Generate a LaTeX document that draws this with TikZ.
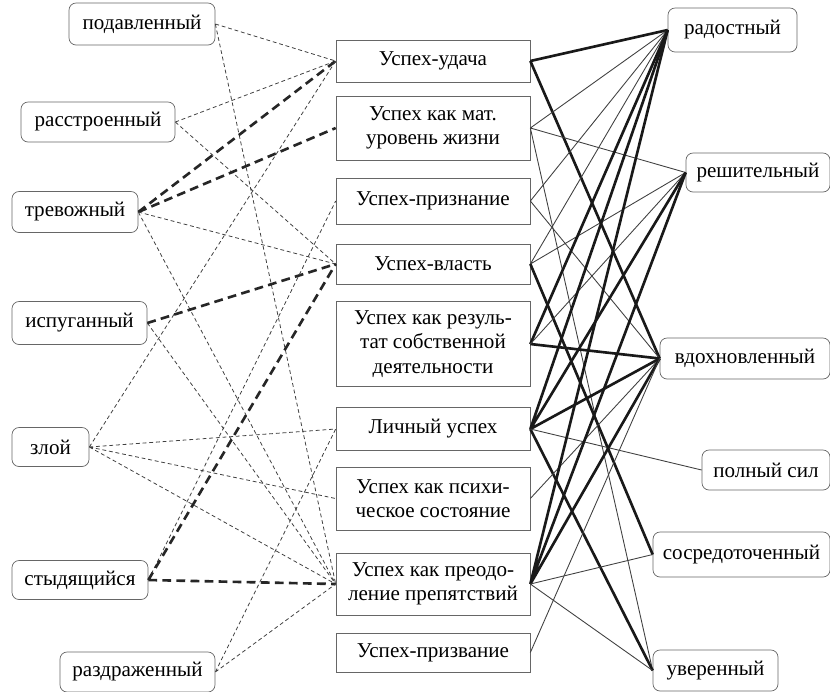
\documentclass[tikz,border=0pt]{standalone}
\usepackage{fontspec}
\setmainfont{Liberation Serif}
\usepackage{tikz}
\tikzstyle{emo} = [draw=black!60, rounded corners=4pt, rectangle, align=center, font=\fontsize{12}{14}\selectfont]
\tikzstyle{kind} = [draw=black!60, rectangle, minimum width=3.88cm, align=center, font=\fontsize{12}{14}\selectfont]
\tikzstyle{weak} = [draw=black!75, line width=0.45pt, dash pattern=on 2.2pt off 1.6pt]
\tikzstyle{strong} = [draw=black!85, line width=1.5pt, dash pattern=on 5pt off 3pt]
\tikzstyle{thin} = [draw=black!75, line width=0.5pt]
\tikzstyle{bold} = [draw=black!90, line width=1.5pt]

\begin{document}
\begin{tikzpicture}[x=0.02cm, y=-0.02cm]
\clip (0,0) rectangle (830,691);

% left column
\node [emo, minimum width=2.92cm, minimum height=0.84cm] (pod) at (142,24) {подавленный};
\node [emo, minimum width=3.08cm, minimum height=0.80cm] (ras) at (98,122) {расстроенный};
\node [emo, minimum width=2.52cm, minimum height=0.82cm] (tre) at (75,212) {тревожный};
\node [emo, minimum width=2.70cm, minimum height=0.86cm] (isp) at (79.5,323) {испуганный};
\node [emo, minimum width=1.54cm, minimum height=0.78cm] (zloy) at (50.5,447) {злой};
\node [emo, minimum width=2.72cm, minimum height=0.78cm] (styd) at (80,580) {стыдящийся};
\node [emo, minimum width=3.10cm, minimum height=0.80cm] (razd) at (137.5,672) {раздраженный};

% middle column
\node [kind, minimum height=0.84cm] (udacha) at (433,61) {Успех-удача};
\node [kind, minimum height=1.28cm] (mat) at (433,128) {Успех как мат.\\уровень жизни};
\node [kind, minimum height=0.92cm] (priz) at (433,201) {Успех-признание};
\node [kind, minimum height=0.80cm] (vlast) at (433,264) {Успех-власть};
\node [kind, minimum height=1.70cm] (rez) at (433,344) {Успех как резуль-\\тат собственной\\деятельности};
\node [kind, minimum height=0.86cm] (lich) at (433,429) {Личный успех};
\node [kind, minimum height=1.26cm] (psih) at (433,498.5) {Успех как психи-\\ческое состояние};
\node [kind, minimum height=1.24cm] (preod) at (433,584) {Успех как преодо-\\ление препятствий};
\node [kind, minimum height=0.78cm] (prizv) at (433,652.5) {Успех-призвание};

% right column
\node [emo, minimum width=2.58cm, minimum height=0.88cm] (rad) at (732.5,30) {радостный};
\node [emo, minimum width=2.88cm, minimum height=0.78cm] (resh) at (758,172.5) {решительный};
\node [emo, minimum width=3.40cm, minimum height=0.82cm] (vdoh) at (745,358.5) {вдохновленный};
\node [emo, minimum width=2.56cm, minimum height=0.80cm] (poln) at (766,470) {полный сил};
\node [emo, minimum width=3.54cm, minimum height=0.90cm] (sosr) at (741.5,554.5) {сосредоточенный};
\node [emo, minimum width=2.50cm, minimum height=0.82cm] (uver) at (715.5,670.5) {уверенный};

% left links
\draw [weak] (pod.east) -- (udacha.west) (pod.east) -- (preod.west);
\draw [weak] (ras.east) -- (udacha.west) (ras.east) -- (vlast.west);
\draw [strong] (tre.east) -- (udacha.west) (tre.east) -- (mat.west);
\draw [weak] (tre.east) -- (vlast.west) (tre.east) -- (preod.west);
\draw [strong] (isp.east) -- (vlast.west);
\draw [weak] (isp.east) -- (preod.west);
\draw [weak] (zloy.east) -- (udacha.west) (zloy.east) -- (lich.west) (zloy.east) -- (psih.west) (zloy.east) -- (preod.west);
\draw [weak] (styd.east) -- (priz.west);
\draw [strong] (styd.east) -- (vlast.west) (styd.east) -- (preod.west);
\draw [weak] (razd.east) -- (lich.west) (razd.east) -- (preod.west);

% right links
\draw [bold] (udacha.east) -- (rad.west) (udacha.east) -- (vdoh.west);
\draw [thin] (mat.east) -- (rad.west) (mat.east) -- (resh.west) (mat.east) -- (uver.west);
\draw [thin] (priz.east) -- (rad.west) (priz.east) -- (vdoh.west);
\draw [thin] (vlast.east) -- (rad.west) (vlast.east) -- (resh.west);
\draw [bold] (vlast.east) -- (sosr.west);
\draw [bold] (rez.east) -- (rad.west) (rez.east) -- (vdoh.west);
\draw [thin] (rez.east) -- (resh.west);
\draw [bold] (lich.east) -- (rad.west) (lich.east) -- (resh.west) (lich.east) -- (vdoh.west) (lich.east) -- (uver.west);
\draw [thin] (lich.east) -- (poln.west);
\draw [thin] (psih.east) -- (vdoh.west);
\draw [bold] (preod.east) -- (rad.west) (preod.east) -- (resh.west) (preod.east) -- (vdoh.west);
\draw [thin] (preod.east) -- (sosr.west) (preod.east) -- (uver.west);
\draw [thin] (prizv.east) -- (vdoh.west);
\end{tikzpicture}
\end{document}
